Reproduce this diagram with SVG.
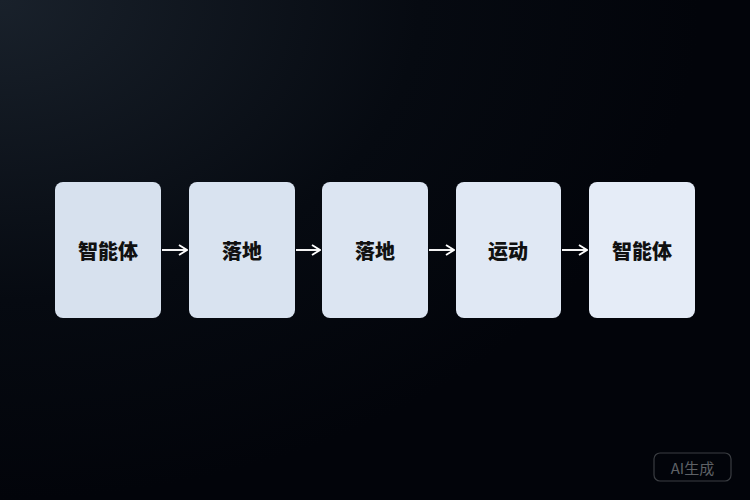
<svg xmlns="http://www.w3.org/2000/svg" width="750" height="500" viewBox="0 0 750 500">
<defs>
<radialGradient id="bg" cx="0" cy="0" r="1" gradientUnits="userSpaceOnUse" gradientTransform="translate(0 0) scale(700 500)">
<stop offset="0" stop-color="#19212b"/>
<stop offset="0.6" stop-color="#060a11"/>
<stop offset="1" stop-color="#02040a"/>
</radialGradient>
<marker id="ah" viewBox="0 0 10 12" refX="9" refY="6" markerWidth="10" markerHeight="12" markerUnits="userSpaceOnUse" orient="auto">
<path d="M1 1 L9 6 L1 11" fill="none" stroke="#ffffff" stroke-width="1.9"/>
</marker>
</defs>
<style>
.lbl{font-family:"Noto Sans CJK SC","Noto Sans",sans-serif;font-weight:900;font-size:20px;fill:#111;text-anchor:middle;dominant-baseline:central;}
.conn{stroke:#ffffff;stroke-width:1.9;fill:none;}
</style>
<rect width="750" height="500" fill="url(#bg)"/>
<g id="n1"><rect x="55" y="182" width="106" height="136" rx="8" fill="#d7e1ee"/><text class="lbl" x="108" y="250">智能体</text></g>
<g id="n2"><rect x="189" y="182" width="106" height="136" rx="8" fill="#d9e3f0"/><text class="lbl" x="242" y="250">落地</text></g>
<g id="n3"><rect x="322" y="182" width="106" height="136" rx="8" fill="#dce5f2"/><text class="lbl" x="375" y="250">落地</text></g>
<g id="n4"><rect x="456" y="182" width="105" height="136" rx="8" fill="#e0e8f4"/><text class="lbl" x="508" y="250">运动</text></g>
<g id="n5"><rect x="589" y="182" width="106" height="136" rx="8" fill="#e5ecf7"/><text class="lbl" x="642" y="250">智能体</text></g>
<g id="connectors">
<line class="conn" x1="162" y1="250" x2="187" y2="250" marker-end="url(#ah)"/>
<line class="conn" x1="296" y1="250" x2="320" y2="250" marker-end="url(#ah)"/>
<line class="conn" x1="429" y1="250" x2="454" y2="250" marker-end="url(#ah)"/>
<line class="conn" x1="562" y1="250" x2="587" y2="250" marker-end="url(#ah)"/>
</g>
<g id="badge">
<rect x="654" y="453" width="77" height="28" rx="6" fill="none" stroke="#3a3d42" stroke-width="1.2"/>
<text x="692.5" y="467" font-family="'Noto Sans CJK SC','Noto Sans',sans-serif" font-size="15" fill="#5e6166" text-anchor="middle" dominant-baseline="central">AI生成</text>
</g>
</svg>
